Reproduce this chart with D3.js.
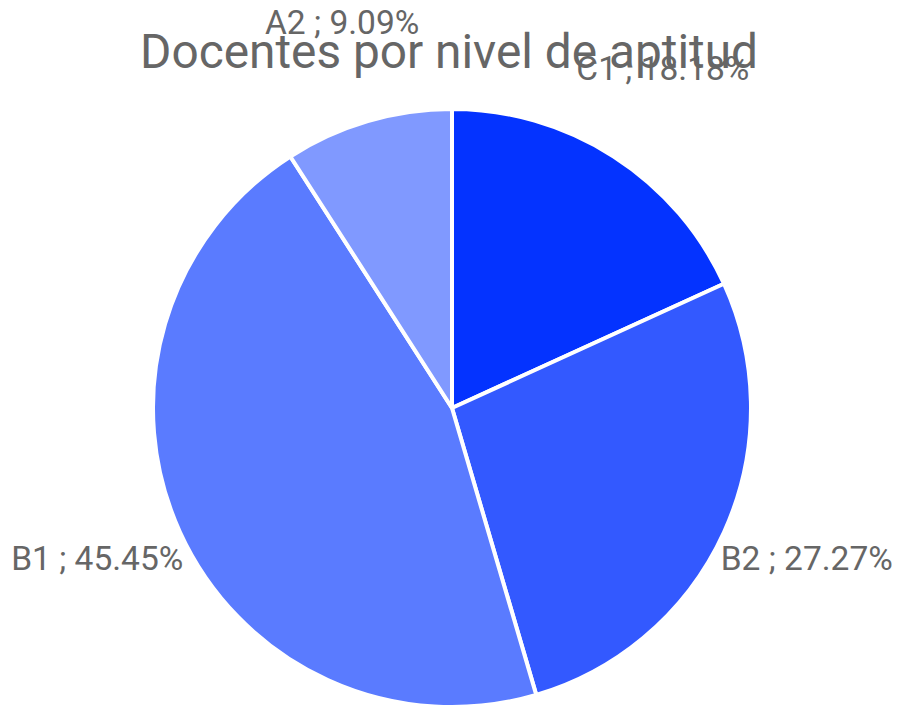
<!DOCTYPE html>
<html>
<head>
<meta charset="utf-8">
<script src="https://cdn.jsdelivr.net/npm/d3@7"></script>
<style>
  html, body { margin: 0; padding: 0; background: #fff; }
  svg { display: block; }
</style>
</head>
<body>
<svg id="chart" width="898" height="709"></svg>
<script>
const title = "Docentes por nivel de aptitud";
const categories = ["C1", "B2", "B1", "A2"];
const percents = [18.18, 27.27, 45.45, 9.09];
const colors = ["#0433ff", "#3359ff", "#5a7bff", "#8099ff"];

const W = 898, H = 709;
const cx = 452, cy = 408, R = 299, labelR = 390;
const svg = d3.select("#chart");

const data = categories.map((c, i) => ({ cat: c, value: percents[i], color: colors[i] }));
const pie = d3.pie().value(d => d.value).sort(null);
const arcs = pie(data);
const arc = d3.arc().innerRadius(0).outerRadius(R);

const g = svg.append("g").attr("transform", `translate(${cx},${cy})`);
g.selectAll("path").data(arcs).join("path")
  .attr("d", arc)
  .attr("fill", d => d.data.color)
  .attr("stroke", "#fff")
  .attr("stroke-width", 4)
  .attr("stroke-linejoin", "round");

svg.append("text")
  .attr("x", 449).attr("y", 68)
  .attr("text-anchor", "middle")
  .attr("font-family", "Roboto, sans-serif")
  .attr("font-size", 47.8)
  .attr("fill", "#666666")
  .text(title);

g.selectAll("text.lbl").data(arcs).join("text")
  .attr("class", "lbl")
  .attr("x", d => Math.sin((d.startAngle + d.endAngle) / 2) * labelR)
  .attr("y", d => -Math.cos((d.startAngle + d.endAngle) / 2) * labelR)
  .attr("text-anchor", "middle")
  .attr("font-family", "Roboto, sans-serif")
  .attr("font-size", 33.5)
  .attr("fill", "#666666")
  .text(d => `${d.data.cat} ; ${d.data.value.toFixed(2)}%`);
</script>
</body>
</html>
